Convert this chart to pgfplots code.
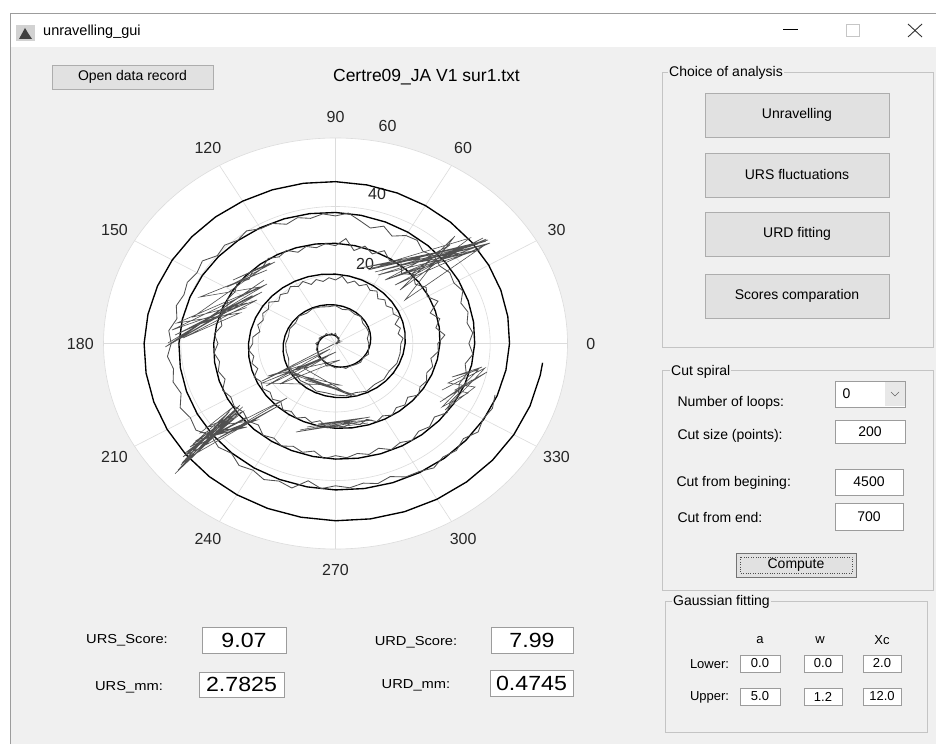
\documentclass[border=0pt]{standalone}
\usepackage{graphicx}
\usepackage{pgfplots}
\pgfplotsset{compat=1.18}
\usepackage{fontspec}
\setmainfont{Liberation Sans}
\definecolor{bgc}{HTML}{F0F0F0}
\definecolor{btn}{HTML}{E1E1E1}
\definecolor{btnb}{HTML}{ADADAD}
\definecolor{gridc}{HTML}{DCDCDC}
\definecolor{panb}{HTML}{C4C4C4}
\definecolor{boxb}{HTML}{9C9C9C}
\definecolor{trace}{HTML}{505050}
\newcommand\gf{\fontsize{14}{16}\selectfont}
\newcommand\smf{\fontsize{13}{15}\selectfont}
\newcommand\tkf{\fontsize{16}{18}\selectfont}
\newcommand\bigf{\fontsize{20.5}{23}\selectfont}
\newcommand\wide[1]{\scalebox{1.13}[1]{#1}}
\begin{document}
\begin{tikzpicture}
\begin{scope}[x=1pt,y=-1pt,yshift=744pt]
\fill[white] (0,0) rectangle (936,744);
\fill[bgc] (10,47) rectangle (936,744);
\draw[boxb,line width=0.8pt] (10,744) -- (10,13) -- (936,13);
% title bar
\fill[gray!35] (16,25) rectangle (35,41);
\fill[black!75] (19,39) -- (25,28) -- (28,33) -- (32,39) -- cycle;
\node[anchor=west,font=\fontsize{14.5}{17}\selectfont,inner sep=0] at (43,32) {unravelling\_gui};
\draw[line width=1pt] (783,30) -- (798,30);
\draw[gray!45,line width=0.8pt] (846,24) rectangle (859,36);
\draw[black!80,line width=0.9pt] (908,24) -- (922,37) (908,37) -- (922,24);
% open button & title
\draw[fill=btn,draw=btnb] (52,65) rectangle (213,89);
\node[font=\gf] at (132.5,77) {Open data record};
\node[font=\fontsize{17.5}{20}\selectfont] at (426.5,77) {Certre09\_JA V1 sur1.txt};
% choice of analysis panel
\draw[panb] (662,72) rectangle (933,347);
\node[anchor=west,fill=bgc,inner sep=1pt,font=\gf] at (668,73) {Choice of analysis};
\draw[fill=btn,draw=btnb] (705,93) rectangle (889,137);
\node[font=\gf] at (797,115) {Unravelling};
\draw[fill=btn,draw=btnb] (705,153) rectangle (889,197);
\node[font=\gf] at (797,175) {URS fluctuations};
\draw[fill=btn,draw=btnb] (705,212) rectangle (889,256);
\node[font=\gf] at (797,234) {URD fitting};
\draw[fill=btn,draw=btnb] (705,274) rectangle (889,318);
\node[font=\gf] at (797,296) {Scores comparation};
% cut spiral panel
\draw[panb] (662,370) rectangle (933,590);
\node[anchor=west,fill=bgc,inner sep=1pt,font=\gf] at (670,372) {Cut spiral};
\node[anchor=west,font=\gf] at (674,403) {Number of loops:};
\draw[fill=white,draw=boxb] (835,381) rectangle (905,407);
\fill[gray!18] (885,382) rectangle (904.5,406.5);
\draw[black!60] (891,392) -- (895,396) -- (899,392);
\node[anchor=west,font=\gf] at (839,394) {0};
\node[anchor=west,font=\gf] at (674,436) {Cut size (points):};
\draw[fill=white,draw=boxb] (835,420) rectangle (905,443);
\node[font=\gf] at (870,432) {200};
\node[anchor=west,font=\gf] at (673,483) {Cut from begining:};
\draw[fill=white,draw=boxb] (835,469) rectangle (903,495);
\node[font=\gf] at (869,482) {4500};
\node[anchor=west,font=\gf] at (674,517) {Cut from end:};
\draw[fill=white,draw=boxb] (835,503) rectangle (903,530);
\node[font=\gf] at (869,517) {700};
\draw[fill=btn,draw=black!55] (736,553) rectangle (856,577);
\draw[black!70,dotted] (740,557) rectangle (852,573);
\node[font=\gf] at (796,565) {Compute};
% gaussian panel
\draw[panb] (665,601) rectangle (927,732);
\node[anchor=west,fill=bgc,inner sep=1pt,font=\gf] at (672,602) {Gaussian fitting};
\node[font=\smf] at (760,640) {a};
\node[font=\smf] at (820,640) {w};
\node[font=\smf] at (882,640) {Xc};
\node[font=\smf] at (709.5,664) {Lower:};
\node[font=\smf] at (709.5,697) {Upper:};
\draw[fill=white,draw=boxb] (740,655) rectangle (780,672);
\draw[fill=white,draw=boxb] (804,655) rectangle (842,672);
\draw[fill=white,draw=boxb] (863,655) rectangle (901,672);
\draw[fill=white,draw=boxb] (740,688) rectangle (780,705);
\draw[fill=white,draw=boxb] (804,688) rectangle (842,705);
\draw[fill=white,draw=boxb] (863,688) rectangle (901,705);
\node[font=\smf] at (760,663.5) {0.0};
\node[font=\smf] at (823,663.5) {0.0};
\node[font=\smf] at (882,663.5) {2.0};
\node[font=\smf] at (760,696.5) {5.0};
\node[font=\smf] at (823,696.5) {1.2};
\node[font=\smf] at (882,696.5) {12.0};
% bottom fields
\node[font=\smf] at (127,640) {\wide{URS\_Score:}};
\node[font=\smf] at (129,687) {\wide{URS\_mm:}};
\node[font=\smf] at (416,642) {\wide{URD\_Score:}};
\node[font=\smf] at (416,685) {\wide{URD\_mm:}};
\draw[fill=white,draw=boxb] (202,627) rectangle (286,653);
\draw[fill=white,draw=boxb] (199,672) rectangle (284,697);
\draw[fill=white,draw=boxb] (491,627) rectangle (573,653);
\draw[fill=white,draw=boxb] (490,670) rectangle (573,696);
\node[font=\bigf] at (244,640) {\wide{9.07}};
\node[font=\bigf] at (241.5,684.5) {\wide{2.7825}};
\node[font=\bigf] at (532,640) {\wide{7.99}};
\node[font=\bigf] at (531.5,683) {\wide{0.4745}};
\end{scope}
\begin{axis}[at={(0,0)},anchor=south west,scale only axis,width=936pt,height=744pt,
  xmin=-86.77,xmax=155.30,ymin=-116.93,ymax=100.29,hide axis,clip=false]
\fill[white,draw=gridc,line width=0.6pt] (axis cs:0,0) ellipse [x radius=60,y radius=60];
\draw[gridc,line width=0.6pt] (axis cs:0,0) ellipse [x radius=40,y radius=40];
\draw[gridc,line width=0.6pt] (axis cs:0,0) ellipse [x radius=20,y radius=20];
\pgfplotsinvokeforeach{0,30,...,330}{
  \draw[gridc,line width=0.6pt] (axis cs:0,0) -- (axis cs:{60*cos(#1)},{60*sin(#1)});
  \node[font=\tkf,text=black!85] at (axis cs:{66*cos(#1)},{66*sin(#1)}) {#1};
}
\node[font=\tkf,text=black!85] at (axis cs:7.63,23.2) {20};
\node[font=\tkf,text=black!85] at (axis cs:10.73,43.65) {40};
\node[font=\tkf,text=black!85] at (axis cs:13.45,63.36) {60};
% ideal spiral
\addplot[black,line width=1.35pt,mark=none,data cs=polar] coordinates {
(0,0)(10,0.25)(20,0.5)(30,0.75)(40,1)(50,1.25)(60,1.5)(70,1.75)(80,2)(90,2.25)(100,2.5)(110,2.75)(120,3)(130,3.25)(140,3.5)(150,3.75)(160,4)(170,4.25)(180,4.5)(190,4.75)(200,5)(210,5.25)(220,5.5)(230,5.75)(240,6)(250,6.25)(260,6.5)(270,6.75)(280,7)(290,7.25)(300,7.5)(310,7.75)(320,8)(330,8.25)(340,8.5)(350,8.75)
(360,9)(370,9.25)(380,9.5)(390,9.75)(400,10)(410,10.25)(420,10.5)(430,10.75)(440,11)(450,11.25)(460,11.5)(470,11.75)(480,12)(490,12.25)(500,12.5)(510,12.75)(520,13)(530,13.25)(540,13.5)(550,13.75)(560,14)(570,14.25)(580,14.5)(590,14.75)(600,15)(610,15.25)(620,15.5)(630,15.75)(640,16)(650,16.25)(660,16.5)(670,16.75)(680,17)(690,17.25)(700,17.5)(710,17.75)
(720,18)(730,18.25)(740,18.5)(750,18.75)(760,19)(770,19.25)(780,19.5)(790,19.75)(800,20)(810,20.25)(820,20.5)(830,20.75)(840,21)(850,21.25)(860,21.5)(870,21.75)(880,22)(890,22.25)(900,22.5)(910,22.75)(920,23)(930,23.25)(940,23.5)(950,23.75)(960,24)(970,24.25)(980,24.5)(990,24.75)(1000,25)(1010,25.25)(1020,25.5)(1030,25.75)(1040,26)(1050,26.25)(1060,26.5)(1070,26.75)
(1080,27)(1090,27.25)(1100,27.5)(1110,27.75)(1120,28)(1130,28.25)(1140,28.5)(1150,28.75)(1160,29)(1170,29.25)(1180,29.5)(1190,29.75)(1200,30)(1210,30.25)(1220,30.5)(1230,30.75)(1240,31)(1250,31.25)(1260,31.5)(1270,31.75)(1280,32)(1290,32.25)(1300,32.5)(1310,32.75)(1320,33)(1330,33.25)(1340,33.5)(1350,33.75)(1360,34)(1370,34.25)(1380,34.5)(1390,34.75)(1400,35)(1410,35.25)(1420,35.5)(1430,35.75)
(1440,36)(1450,36.25)(1460,36.5)(1470,36.75)(1480,37)(1490,37.25)(1500,37.5)(1510,37.75)(1520,38)(1530,38.25)(1540,38.5)(1550,38.75)(1560,39)(1570,39.25)(1580,39.5)(1590,39.75)(1600,40)(1610,40.25)(1620,40.5)(1630,40.75)(1640,41)(1650,41.25)(1660,41.5)(1670,41.75)(1680,42)(1690,42.25)(1700,42.5)(1710,42.75)(1720,43)(1730,43.25)(1740,43.5)(1750,43.75)(1760,44)(1770,44.25)(1780,44.5)(1790,44.75)
(1800,45)(1810,45.25)(1820,45.5)(1830,45.75)(1840,46)(1850,46.25)(1860,46.5)(1870,46.75)(1880,47)(1890,47.25)(1900,47.5)(1910,47.75)(1920,48)(1930,48.25)(1940,48.5)(1950,48.75)(1960,49)(1970,49.25)(1980,49.5)(1990,49.75)(2000,50)(2010,50.25)(2020,50.5)(2030,50.75)(2040,51)(2050,51.25)(2060,51.5)(2070,51.75)(2080,52)(2090,52.25)(2100,52.5)(2110,52.75)(2120,53)(2130,53.25)(2140,53.5)(2150,53.75)(2154,53.85)
};
% drawn trace
\addplot[trace,line width=0.85pt,mark=none,data cs=polar] coordinates {
(0,0.3)(10,0.25)(20,1.1)(30,0.65)(40,1.3)(50,1.05)(60,1.9)(70,1.95)(80,1.9)(90,2.95)(100,2.6)(110,3.15)(120,2.8)(130,3.75)(140,3.6)(150,4.05)(160,4.5)(170,4.25)(180,5.1)(190,4.65)(200,5.3)(210,5.05)(220,5.9)(230,5.95)(240,5.9)(250,6.95)(260,6.6)(270,7.15)(280,6.8)(290,7.75)(300,7.6)(310,8.05)(320,8.5)(330,8.25)(340,9.1)(350,8.65)
(360,8.6)(370,8.35)(380,9.2)(390,9.25)(400,9.2)(410,10.25)(420,9.9)(430,10.45)(440,10.1)(450,11.05)(460,10.9)(470,11.35)(480,11.8)(490,11.55)(500,12.4)(510,11.95)(520,12.6)(530,12.35)(540,12.9)(550,12.95)(560,12.9)(570,13.95)(580,13.6)(590,14.15)(600,13.8)(610,14.75)(620,14.6)(630,15.05)(640,15.5)(650,15.25)(660,16.1)(670,15.65)(680,16.3)(690,16.05)(700,16.9)(710,16.95)(720,16.9)
(725,17.53)(730,16.45)(735,17.38)(740,16.4)(745,18.23)(750,17.25)(755,17.98)(760,17.1)(765,18.03)(770,17.05)(775,18.68)(780,17.9)(785,19.03)(790,17.95)(795,18.88)(800,17.9)(805,19.73)(810,18.55)(815,19.28)(820,18.4)(825,19.33)(830,18.35)(835,19.98)(840,19.2)(845,20.33)(850,19.25)(855,20.18)(860,19.2)(865,21.03)(870,20.05)(875,20.78)(880,19.9)(885,20.83)(890,19.85)(895,21.48)
(900,21.4)(905,22.53)(910,21.45)(915,22.38)(920,21.4)(925,23.23)(930,22.25)(935,22.98)(940,22.1)(945,23.03)(950,22.05)(955,23.68)(960,22.9)(965,24.03)(970,22.95)(975,23.88)(980,22.9)(985,24.73)(990,23.75)(995,24.48)(1000,23.6)(1005,24.53)(1010,23.55)(1015,25.18)(1020,24.4)(1025,25.53)(1030,24.45)(1035,25.38)(1040,24.4)(1045,26.23)(1050,25.25)(1055,25.98)(1060,25.1)(1065,26.03)(1070,25.05)(1075,26.68)
(1080,26.46)(1085,28.39)(1090,26.35)(1095,27.92)(1100,26.06)(1105,29.25)(1110,27.39)(1115,28.6)(1120,26.92)(1125,28.49)(1130,26.63)(1135,29.46)(1140,27.96)(1145,29.89)(1150,27.85)(1155,29.42)(1160,27.56)(1165,30.75)(1170,28.55)
(1175,29.28)(1180,28.4)(1185,29.33)(1190,28.35)(1195,29.98)(1200,29.2)(1205,30.33)(1210,29.25)(1215,30.18)(1220,29.2)(1225,31.03)(1230,30.05)(1235,30.78)(1240,29.9)(1245,30.83)(1250,29.85)(1255,31.48)
(1260,30.4)(1265,31.53)(1270,30.45)(1275,31.38)(1280,30.4)(1285,32.23)(1290,31.25)(1295,31.98)(1300,31.1)(1305,32.03)(1310,31.05)(1315,32.68)(1320,31.9)(1325,33.03)(1330,31.95)(1335,32.88)(1340,31.9)(1345,33.73)(1350,32.75)(1355,33.48)(1360,32.6)(1365,33.53)(1370,32.55)(1375,34.18)(1380,33.4)(1385,34.53)(1390,33.45)(1395,34.38)(1400,33.4)(1405,35.23)(1410,34.25)(1415,34.98)(1420,34.1)(1425,35.03)(1430,34.05)(1435,35.68)
(1440,34.5)(1445,35.63)(1450,34.55)(1455,35.48)(1460,34.5)(1465,36.33)(1470,35.35)(1475,36.08)(1480,35.2)(1485,36.13)(1490,35.15)(1495,36.78)(1500,36.4)(1505,34.6)(1510,36.45)(1515,34.9)(1520,36.4)(1525,38.23)(1530,37.25)(1535,37.98)(1540,37.1)(1545,38.03)(1550,37.05)(1555,38.68)
(1560,38.7)(1565,40.13)(1570,39.35)(1575,40.58)(1580,39.9)(1585,42.03)(1590,41.35)(1595,42.28)(1600,41.7)(1605,42.63)(1610,41.65)(1615,43.28)(1620,42.5)(1625,43.63)(1630,42.55)(1635,43.48)(1640,42.5)(1645,44.33)(1650,43.35)(1655,44.08)
(1660,41.9)(1665,42.83)(1670,41.85)(1675,43.48)(1680,42.7)(1685,43.83)(1690,42.75)(1695,43.68)(1700,40.7)(1705,42.53)(1710,41.55)(1715,42.28)(1720,41.4)(1725,42.33)(1730,41.35)(1735,42.98)(1740,43.2)(1745,44.33)(1750,43.25)(1755,44.18)(1760,43.2)(1765,45.03)(1770,44.05)(1775,44.78)(1780,43.9)
};
% scribble clusters of the drawn trace
\addplot[trace,line width=0.6pt,mark=none] coordinates {
(-0.39,-0.15)(-19.01,-10.95)(-1.42,-1.61)(-17.97,-12.41)(0.13,-2.48)(-16.42,-10.36)(-1.94,-3.65)(-14.35,-11.82)(1.16,-4.82)(-17.46,-9.49)(-9.18,-6.57)(4.27,-15.33)(-11.25,-8.32)(2.72,-14.16)(-7.89,-10.66)(5.82,-15.33)(-13.06,-8.32)(1.16,-12.12)(-19.01,-11.53)(-4.01,-4.82)
};
\addplot[trace,line width=0.6pt,mark=none] coordinates {
(-43.32,0.15)(-17.72,17.37)(-42.28,3.94)(-20.30,12.70)(-39.44,1.61)(-24.70,8.91)(-40.99,5.99)(-19.53,16.50)(-35.04,13.58)(-17.72,21.46)(-28.06,16.50)(-15.65,23.80)(-26.51,18.54)(-16.94,23.50)(-36.85,7.74)(-22.89,11.82)(-41.51,2.48)(-19.01,15.04)(-44.0,-1.0)(-18.5,18.5)(-41.0,1.0)(-21.5,14.0)(-38.0,4.5)(-23.0,10.5)
};
\addplot[trace,line width=0.6pt,mark=none] coordinates {
(-40.73,-36.93)(-24.70,-17.96)(-39.44,-33.14)(-25.47,-19.42)(-37.63,-30.22)(-22.89,-21.46)(-38.92,-31.97)(-26.77,-21.75)(-35.82,-28.18)(-22.89,-24.38)(-35.04,-26.13)(-26.51,-18.54)(-39.70,-34.89)(-23.92,-19.85)(-33.23,-24.38)(-20.30,-22.34)(-32.46,-27.30)(-12.54,-15.91)(-31.16,-28.18)(-14.35,-17.96)(-38.15,-33.43)(-25.22,-20.58)(-41.5,-38.0)(-24.0,-18.5)(-40.0,-35.5)(-27.5,-20.0)(-36.5,-29.0)(-21.5,-22.5)(-38.5,-32.5)(-24.5,-19.0)
};
\addplot[trace,line width=0.6pt,mark=none] coordinates {
(9.44,22.04)(39.44,30.22)(10.99,20.00)(37.37,27.30)(11.51,22.92)(34.78,30.80)(16.68,15.62)(30.90,31.39)(17.97,12.70)(38.66,28.76)(10.22,20.88)(39.96,29.34)(15.39,17.08)(38.15,30.80)(19.27,20.00)(29.61,28.76)(12.80,18.54)(35.30,26.72)(21.85,23.80)(36.85,29.05)(6.34,22.04)(21.85,24.96)(8.5,21.5)(38.8,29.8)(12.0,21.5)(36.5,28.2)(14.0,19.0)(39.0,30.5)
};
\addplot[trace,line width=0.6pt,mark=none] coordinates {
(27.54,-13.58)(38.66,-7.15)(28.32,-19.42)(36.08,-12.70)(29.09,-11.53)(37.89,-6.86)(30.13,-9.78)(36.85,-7.74)(27.54,-18.54)(34.27,-14.45)(30.90,-13.58)(39.18,-8.32)(27.02,-17.08)(35.30,-10.66)
};
\addplot[trace,line width=0.6pt,mark=none] coordinates {
(-9.18,-25.26)(8.92,-21.46)(-7.37,-24.38)(7.11,-21.75)(-4.53,-23.50)(9.44,-22.34)(-10.22,-25.84)(5.04,-22.63)(-1.42,-24.67)(8.41,-23.21)
};
\end{axis}
\pgfresetboundingbox
\path[use as bounding box] (0,0) rectangle (936pt,744pt);
\end{tikzpicture}
\end{document}
